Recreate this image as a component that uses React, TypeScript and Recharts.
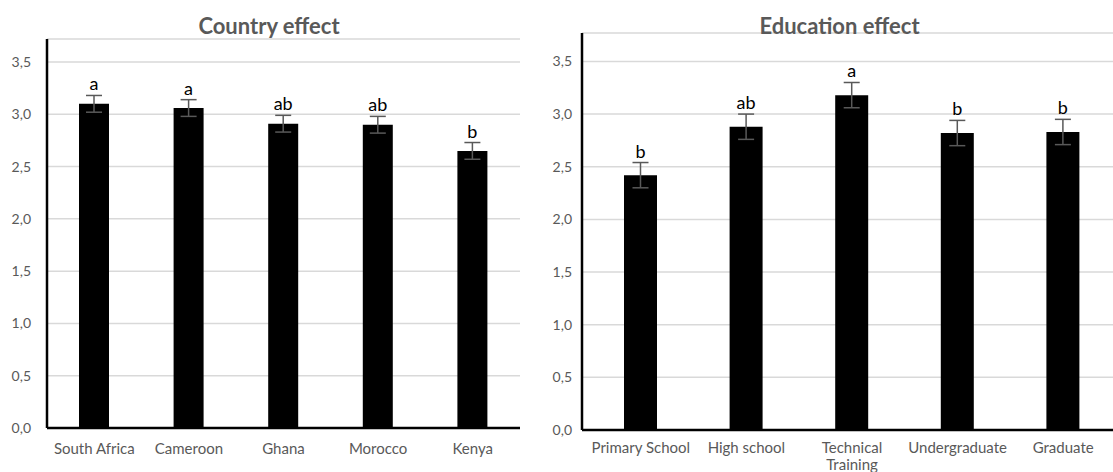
import { Bar, BarChart, CartesianGrid, ErrorBar, LabelList, Text, XAxis, YAxis } from "recharts";

const countries = ["South Africa", "Cameroon", "Ghana", "Morocco", "Kenya"];
const countryMeans = [3.1, 3.06, 2.91, 2.9, 2.65];
const countryErrors = [0.08, 0.08, 0.08, 0.08, 0.08];
const countryLetters = ["a", "a", "ab", "ab", "b"];

const educationLevels = ["Primary School", "High school", "Technical Training", "Undergraduate", "Graduate"];
const educationMeans = [2.42, 2.88, 3.18, 2.82, 2.83];
const educationErrors = [0.12, 0.12, 0.12, 0.12, 0.12];
const educationLetters = ["b", "ab", "a", "b", "b"];

const yTicks = [0, 0.5, 1, 1.5, 2, 2.5, 3, 3.5];

const FONT = "Lato, 'Open Sans', sans-serif";
const GREY = "#595959";

const fmt = (v: number) => v.toFixed(1).replace(".", ",");

function buildRows(names: string[], means: number[], errs: number[]) {
  return names.map((name, i) => ({ name, mean: means[i], err: errs[i] }));
}

function letterLabel(letters: string[], means: number[], errs: number[]) {
  return (props: any) => {
    const { x, y, width, height, index } = props;
    const perUnit = Number(height) / means[index];
    const top = Number(y) - errs[index] * perUnit - 5;
    return (
      <text x={Number(x) + Number(width) / 2} y={top} textAnchor="middle" fontFamily={FONT} fontSize={18} fill="#000">
        {letters[index]}
      </text>
    );
  };
}

function CategoryTick(props: any) {
  const { x, y, payload, wrapWidth } = props;
  return (
    <Text
      x={x}
      y={y}
      width={wrapWidth}
      textAnchor="middle"
      verticalAnchor="start"
      lineHeight={17}
      fontFamily={FONT}
      fontSize={15}
      fill={GREY}
    >
      {payload.value}
    </Text>
  );
}

const countryRows = buildRows(countries, countryMeans, countryErrors);
const educationRows = buildRows(educationLevels, educationMeans, educationErrors);

const titleStyle = {
  position: "absolute" as const,
  top: 12,
  textAlign: "center" as const,
  fontFamily: FONT,
  fontWeight: 700,
  fontSize: 22,
  lineHeight: "28px",
  color: GREY,
};

export default function App() {
  return (
    <div style={{ position: "absolute", left: 0, top: 0, width: 1113, height: 472, background: "#fff", overflow: "hidden" }}>
      <div style={{ position: "absolute", left: 0, top: 0 }}>
        <BarChart width={540} height={472} data={countryRows} margin={{ top: 39, right: 20, bottom: 0, left: 0 }}>
          <CartesianGrid vertical={false} stroke="#d9d9d9" strokeWidth={1.5} />
          <XAxis
            dataKey="name"
            height={44}
            axisLine={{ stroke: "#000", strokeWidth: 2.5 }}
            tickLine={false}
            tickMargin={9}
            interval={0}
            tick={<CategoryTick wrapWidth={92} />}
          />
          <YAxis
            width={47}
            domain={[0, 3.72]}
            ticks={yTicks}
            tickFormatter={fmt}
            axisLine={{ stroke: "#000", strokeWidth: 2.5 }}
            tickLine={false}
            tickMargin={10}
            tick={{ fill: GREY, fontSize: 14, fontFamily: FONT }}
          />
          <Bar dataKey="mean" fill="#000" barSize={30} isAnimationActive={false}>
            <ErrorBar dataKey="err" width={8} stroke={GREY} strokeWidth={1.5} isAnimationActive={false} />
            <LabelList dataKey="mean" content={letterLabel(countryLetters, countryMeans, countryErrors)} />
          </Bar>
        </BarChart>
      </div>

      <div style={{ position: "absolute", left: 540, top: 0 }}>
        <BarChart width={576} height={472} data={educationRows} margin={{ top: 33, right: 0, bottom: 0, left: 0 }}>
          <CartesianGrid vertical={false} stroke="#d9d9d9" strokeWidth={1.5} />
          <XAxis
            dataKey="name"
            height={42}
            padding={{ left: 6, right: 0 }}
            axisLine={{ stroke: "#000", strokeWidth: 2.5 }}
            tickLine={false}
            tickMargin={6}
            interval={0}
            tick={<CategoryTick wrapWidth={106} />}
          />
          <YAxis
            width={42}
            domain={[0, 3.77]}
            ticks={yTicks}
            tickFormatter={fmt}
            axisLine={{ stroke: "#000", strokeWidth: 2.5 }}
            tickLine={false}
            tickMargin={4}
            tick={{ fill: GREY, fontSize: 14, fontFamily: FONT }}
          />
          <Bar dataKey="mean" fill="#000" barSize={33} isAnimationActive={false}>
            <ErrorBar dataKey="err" width={8} stroke={GREY} strokeWidth={1.5} isAnimationActive={false} />
            <LabelList dataKey="mean" content={letterLabel(educationLetters, educationMeans, educationErrors)} />
          </Bar>
        </BarChart>
      </div>

      <div style={{ ...titleStyle, left: 0, width: 538 }}>Country effect</div>
      <div style={{ ...titleStyle, left: 582, width: 515 }}>Education effect</div>
    </div>
  );
}
